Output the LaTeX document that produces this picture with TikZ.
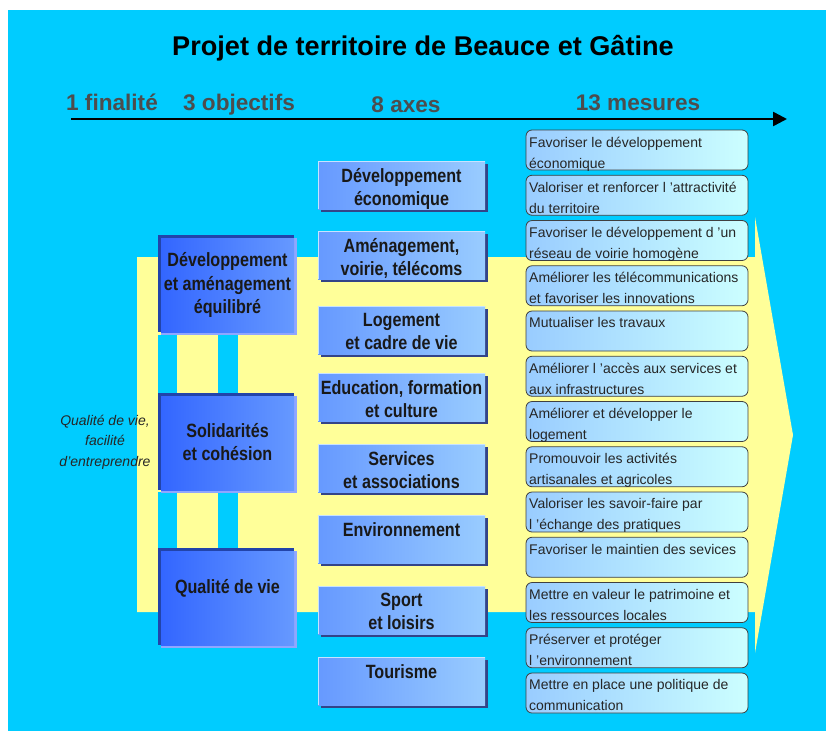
\documentclass[tikz,border=0pt]{standalone}
\usepackage{fontspec}
\setmainfont{Liberation Sans}
\newfontfamily\narrowfont[FakeStretch=0.84]{Liberation Sans}
\usetikzlibrary{arrows.meta}

\definecolor{bgcyan}{HTML}{00CCFF}
\definecolor{arrowyellow}{HTML}{FFFF99}
\definecolor{hdrgray}{HTML}{4D4D4D}
\definecolor{objleft}{HTML}{3366FF}
\definecolor{objright}{HTML}{6699FF}
\definecolor{objdark}{HTML}{2244AA}
\definecolor{objlight}{HTML}{8FA6FF}
\definecolor{axeleft}{HTML}{6699FF}
\definecolor{axeright}{HTML}{99CCFF}
\definecolor{axedark}{HTML}{334488}
\definecolor{mesleft}{HTML}{99CCFF}
\definecolor{mesright}{HTML}{CCFFFF}

\tikzset{
  header/.style={font=\bfseries\fontsize{22.6}{27}\selectfont, text=hdrgray, inner sep=0pt, anchor=base},
  boxtext/.style={font=\narrowfont\bfseries\fontsize{19.2}{23.2}\selectfont, align=center, inner sep=0pt, text=black!90},
  mestext/.style={font=\fontsize{14}{21}\selectfont, align=left, anchor=north west, inner sep=0pt, text=black!85},
}

\begin{document}
\begin{tikzpicture}[x=1pt,y=-1pt]
	\useasboundingbox (0,0) rectangle (826,731);
	% background and yellow arrow
	\fill[bgcyan] (8,10) rectangle (826,731);
	\fill[arrowyellow] (137,257) -- (755,257) -- (755,217) -- (793,435) -- (755,653) -- (755,612) -- (137,612) -- cycle;

	% title
	\node[font=\bfseries\fontsize{27.1}{30}\selectfont, inner sep=0pt] (title) at (423,48) {Projet de territoire de Beauce et Gâtine};

	% headers
	\node[header] (fin) at (112,110) {1 finalité};
	\node[header] (obj) at (239,110) {3 objectifs};
	\node[header] (axes) at (406,112) {8 axes};
	\node[header] (mes) at (638,110) {13 mesures};
	% time line
	\coordinate (t0) at (71,119);
	\coordinate (t1) at (787,119);
	\draw[line width=2.5pt, -{Triangle[length=14pt,width=14pt]}] (t0) -- (t1);

	% finalite
	\node[font=\itshape\fontsize{14}{20.5}\selectfont, align=center, text=black!85, inner sep=0pt] (vision) at (105,442) {Qualité de vie,\\facilité\\d’entreprendre};

	% objectifs
	\fill[bgcyan] (158,335) rectangle (177,393);
	\fill[bgcyan] (218,335) rectangle (238,393);
	\fill[bgcyan] (158,492) rectangle (177,548);
	\fill[bgcyan] (218,492) rectangle (238,548);
	\foreach \y/\ty/\txt [count=\i] in {235/285/{Développement\\et aménagement\\équilibré}, 393/442/{Solidarités\\et cohésion}, 548/588/{Qualité de vie}}
	{
		\fill[objdark] (158,\y) rectangle (294,\y+97);
		\fill[objlight] (161,\y+3) rectangle (297,\y+100);
		\shade[left color=objleft, right color=objright] (161,\y+3) rectangle (294,\y+97);
		\node[boxtext] (obj\i) at (227.5,\ty) {\txt};
	}

	% axes
	\foreach \y/\txt [count=\i] in {161/{Développement\\économique}, 231/{Aménagement,\\voirie, télécoms}, 306/{Logement\\et cadre de vie}, 373/{Education, formation\\et culture}, 444/{Services\\et associations}, 515/{Environnement}, 586/{Sport\\et loisirs}, 657/{Tourisme}}
	{
		\fill[axedark] (321,\y+3) rectangle (488,\y+51);
		\shade[left color=axeleft, right color=axeright] (318,\y) rectangle (485,\y+48);
		\draw[white!45!axeright, line width=1pt] (318.5,\y+48) -- (318.5,\y+0.5) -- (485,\y+0.5);
		\node[boxtext, anchor=north] (axe\i) at (401.5,\y+7) {\txt};
	}

	% mesures
	\foreach \txt [count=\i] in {{Favoriser le développement\\économique}, {Valoriser et renforcer l ’attractivité\\du territoire}, {Favoriser le développement d ’un\\réseau de voirie homogène}, {Améliorer les télécommunications\\et favoriser les innovations}, {Mutualiser les travaux}, {Améliorer l ’accès aux services et\\aux infrastructures}, {Améliorer et développer le\\logement}, {Promouvoir les activités\\artisanales et agricoles}, {Valoriser les savoir-faire par\\l ’échange des pratiques}, {Favoriser le maintien des sevices}, {Mettre en valeur le patrimoine et\\les ressources locales}, {Préserver et protéger\\l ’environnement}, {Mettre en place une politique de\\communication}}
	{
		\pgfmathsetmacro{\y}{130+(\i-1)*45.25}
		\shadedraw[draw=black!75, line width=0.8pt, rounded corners=6pt, left color=mesleft, right color=mesright] (526,\y) rectangle (748,\y+40);
		\node[mestext] (mes\i) at (529,\y+6.5) {\txt};
	}
\end{tikzpicture}
\end{document}
